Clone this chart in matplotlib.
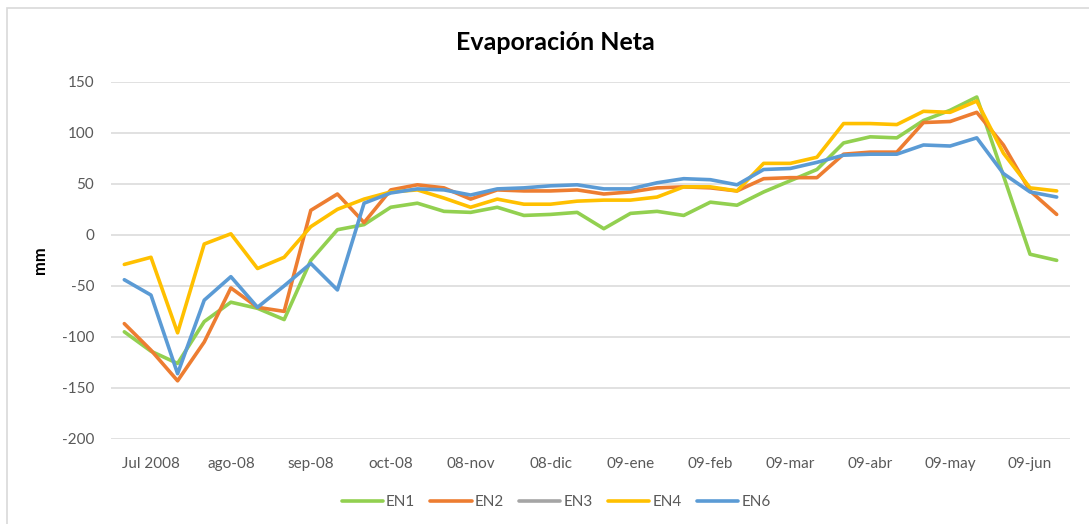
import numpy as np
import matplotlib.pyplot as plt
from matplotlib.patches import Rectangle

# categories: 36 points, labelled every third
n_points = 36
tick_pos = [1, 4, 7, 10, 13, 16, 19, 22, 25, 28, 31, 34]
tick_labels = ['Jul 2008', 'ago-08', 'sep-08', 'oct-08', '08-nov', '08-dic',
               '09-ene', '09-feb', '09-mar', '09-abr', '09-may', '09-jun']

# net evaporation (mm)
en1 = [-95, -114, -126, -85, -66, -72, -83, -25, 5, 10, 27, 31,
       23, 22, 27, 19, 20, 22, 6, 21, 23, 19, 32, 29,
       42, 53, 64, 90, 96, 95, 112, 122, 135, 58, -19, -25]
en2 = [-87, -113, -143, -105, -52, -71, -75, 24, 40, 12, 44, 49,
       46, 35, 44, 43, 43, 44, 40, 42, 46, 47, 46, 43,
       55, 56, 56, 79, 81, 81, 110, 111, 120, 88, 43, 20]
en3 = [np.nan] * n_points  # no visible values in the reference
en4 = [-29, -22, -96, -9, 1, -33, -22, 8, 25, 35, 42, 44,
       36, 27, 35, 30, 30, 33, 34, 34, 37, 47, 47, 43,
       70, 70, 76, 109, 109, 108, 121, 120, 131, 80, 46, 43]
en6 = [-44, -59, -136, -64, -41, -71, -50, -28, -54, 31, 41, 45,
       44, 39, 45, 46, 48, 49, 45, 45, 51, 55, 54, 49,
       64, 65, 71, 78, 79, 79, 88, 87, 95, 60, 42, 37]

series = [('EN1', en1, '#92D050'), ('EN2', en2, '#ED7D31'), ('EN3', en3, '#A5A5A5'),
          ('EN4', en4, '#FFC000'), ('EN6', en6, '#5B9BD5')]

plt.rcParams['font.family'] = ['Lato', 'DejaVu Sans']
plt.rcParams['axes.unicode_minus'] = False

fig = plt.figure(figsize=(10.89, 5.24), dpi=100, facecolor='white')
ax = fig.add_axes([111/1089, 85/524, 959/1089, 357.3/524])

x = np.arange(n_points)
for name, vals, col in series:
    ax.plot(x, vals, color=col, lw=2.6, label=name, solid_capstyle='round', solid_joinstyle='round')

ax.set_xlim(-0.5, n_points - 0.5)
ax.set_ylim(-200, 150)
ax.set_yticks(np.arange(-200, 151, 50))
ax.set_xticks(tick_pos)
ax.set_xticklabels(tick_labels)
ax.grid(axis='y', color='#D9D9D9', lw=1.1)
ax.set_axisbelow(True)
for s in ax.spines.values():
    s.set_visible(False)
ax.tick_params(axis='both', length=0, labelsize=11, colors='#595959')
ax.tick_params(axis='y', pad=12)
ax.tick_params(axis='x', pad=13)
ax.set_ylabel('mm', fontsize=12, fontweight='bold', color='black', labelpad=10)

fig.text(555/1089, 1 - 42/524, 'Evaporación Neta', ha='center', va='center',
         fontsize=18, fontweight='bold', color='black')

fig.legend(loc='center', bbox_to_anchor=(556/1089, 1 - 502/524), ncol=5, frameon=False,
           fontsize=11, handlelength=2.7, handletextpad=0.2, columnspacing=1.0,
           labelcolor='#595959')

fig.patches.append(Rectangle((7/1089, -0.1), 1.2, 1 - 7.5/524 + 0.1, transform=fig.transFigure,
                             fill=False, edgecolor='#D9D9D9', lw=1.2))

fig.savefig('out.png', dpi=100, facecolor='white')
